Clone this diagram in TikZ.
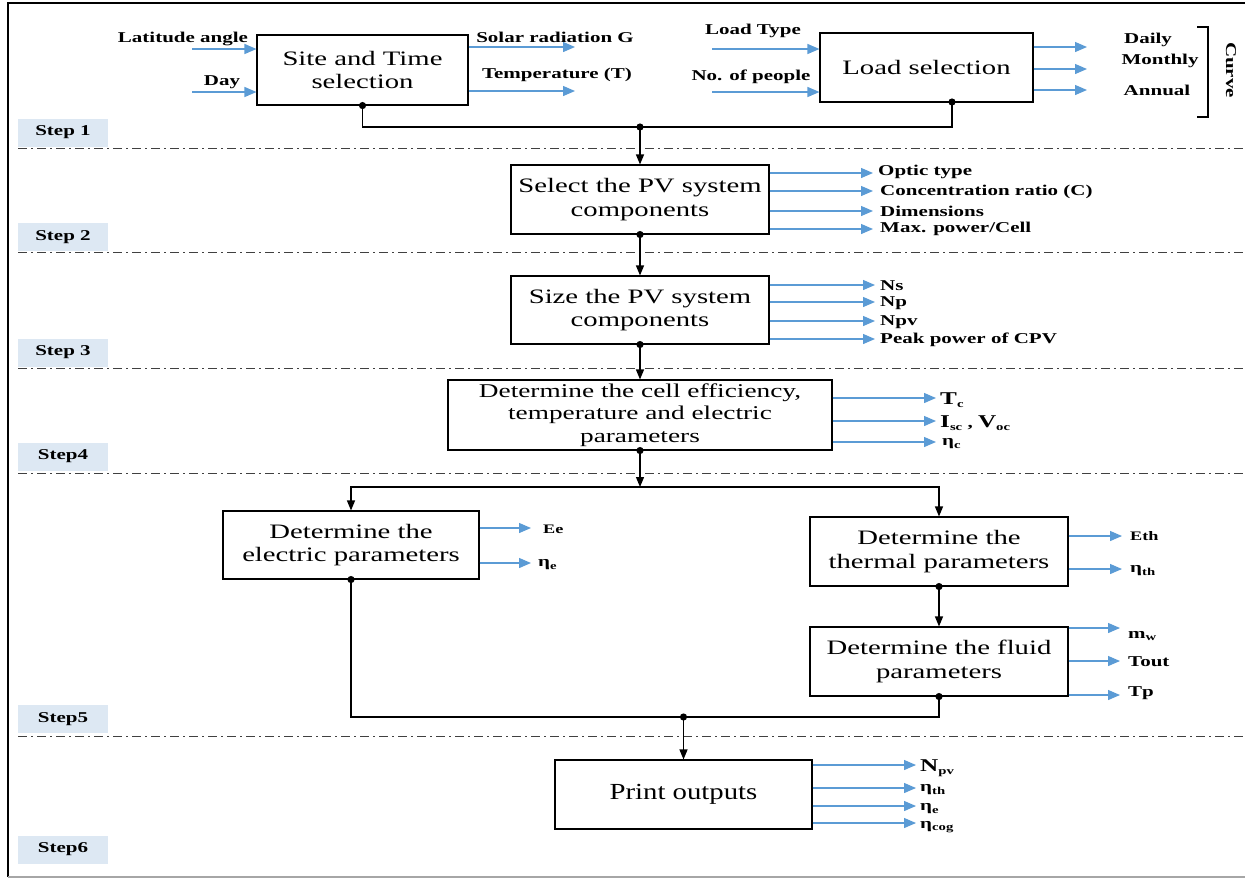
\documentclass[tikz,border=0pt]{standalone}
\usepackage{fontspec}
\setmainfont{Liberation Serif}
\newfontfamily\boxfam[FakeStretch=1.4]{Liberation Serif}
\newfontfamily\lblfam[FakeStretch=1.4]{Liberation Serif}
\newfontfamily\prfam[FakeStretch=1.25]{Liberation Serif}
\usetikzlibrary{arrows.meta}
\definecolor{arrowblue}{RGB}{91,155,213}
\definecolor{stepfill}{RGB}{221,232,243}
\newcommand{\boxtext}{\boxfam\fontsize{20.5}{23.5}\selectfont}
\newcommand{\celltext}{\boxfam\fontsize{19.5}{22.5}\selectfont}
\newcommand{\prtext}{\prfam\fontsize{23}{24}\selectfont}
\newcommand{\lbltext}{\lblfam\bfseries\fontsize{15}{17}\selectfont}
\newcommand{\bigletter}[1]{{\fontsize{18}{18}\selectfont #1}}
\newcommand{\lowsub}[1]{\raisebox{-2.5pt}{\fontsize{10.5}{10.5}\selectfont #1}}
\begin{document}
\begin{tikzpicture}[x=1pt,y=-1pt,
 box/.style={draw, line width=1.1pt, align=center, font=\boxtext, inner sep=0pt},
 lbl/.style={font=\lbltext, inner sep=0pt},
 lblw/.style={lbl, anchor=west},
 barr/.style={draw=arrowblue, line width=1.3pt, -{Triangle[length=12pt,width=10pt]}},
 karr/.style={draw=black, line width=1.2pt, -{Triangle[length=10pt,width=8pt]}},
 kline/.style={draw=black, line width=1.2pt},
 steplbl/.style={fill=stepfill, minimum width=90pt, minimum height=28pt, inner sep=0pt, font=\lbltext},
 sep/.style={draw=black!75, line width=0.9pt, dash pattern=on 9pt off 4pt on 2pt off 4pt}]
\useasboundingbox (0,0) rectangle (1245,879);
\draw[line width=1.2pt] (1245,3) -- (8,3) -- (8,877);
\draw[gray!70, line width=1.2pt] (8,877) -- (1245,877);
% separators
\foreach \y in {148,252,368,473,736} \draw[sep] (18,\y) -- (1245,\y);
% step labels
\node[steplbl] (s1) at (63,132.5) {Step 1};
\node[steplbl] (s2) at (63,237) {Step 2};
\node[steplbl] (s3) at (63,352.5) {Step 3};
\node[steplbl] (s4) at (63,456.5) {Step4};
\node[steplbl] (s5) at (63,719) {Step5};
\node[steplbl] (s6) at (63,849.5) {Step6};
% boxes
\node[box, minimum width=211pt, minimum height=70pt] (site) at (362.5,70) {Site and Time\\selection};
\node[box, minimum width=213pt, minimum height=69pt] (load) at (926.5,67.5) {Load selection};
\node[box, minimum width=258pt, minimum height=69pt] (sel) at (640,199.5) {Select the PV system\\components};
\node[box, minimum width=258pt, minimum height=68pt] (size) at (640,310) {Size the PV system\\components};
\node[box, minimum width=384pt, minimum height=70pt, font=\celltext] (cell) at (640,415) {Determine the cell efficiency,\\temperature and electric\\parameters};
\node[box, minimum width=256pt, minimum height=68pt] (elec) at (351,545) {Determine the\\electric parameters};
\node[box, minimum width=258pt, minimum height=69pt] (therm) at (939,551.5) {Determine the\\thermal parameters};
\node[box, minimum width=258pt, minimum height=69pt] (fluid) at (939,661.5) {Determine the fluid\\parameters};
\node[box, minimum width=257pt, minimum height=69pt, font=\prtext] (print) at (683.5,794.5) {Print outputs};
% black connectors
\coordinate (j1) at (640,127);
\coordinate (lo) at (952,102);
\coordinate (j2) at (640,487);
\coordinate (j3) at (683.5,717);
\draw[kline] (site.south) |- (j1);
\draw[kline] (lo) |- (j1);
\draw[karr] (j1) -- (sel.north);
\draw[karr] (sel.south) -- (size.north);
\draw[karr] (size.south) -- (cell.north);
\draw[karr] (cell.south) -- (j2);
\draw[karr] (j2) -| (elec.north);
\draw[karr] (j2) -| (therm.north);
\draw[karr] (therm.south) -- (fluid.north);
\draw[kline] (elec.south) |- (j3);
\draw[kline] (fluid.south) |- (j3);
\draw[karr] (j3) -- (print.north);
\foreach \p in {site.south, lo, j1, sel.south, size.south, cell.south, therm.south, elec.south, fluid.south, j3}
  \fill (\p) circle (3.6pt);
% step 1 inputs/outputs
\coordinate (lat) at (192,49); \draw[barr] (lat) -- (lat -| site.west);
\coordinate (day) at (192,92); \draw[barr] (day) -- (day -| site.west);
\coordinate (sol) at (575,47); \draw[barr] (sol -| site.east) -- (sol);
\coordinate (tmp) at (575,91); \draw[barr] (tmp -| site.east) -- (tmp);
\coordinate (ltype) at (712,49); \draw[barr] (ltype) -- (ltype -| load.west);
\coordinate (npeo) at (712,92); \draw[barr] (npeo) -- (npeo -| load.west);
\foreach \y/\n in {47/a,69/b,90/c} {\coordinate (ld\n) at (1087,\y); \draw[barr] (ld\n -| load.east) -- (ld\n);}
\node[lbl] (tlat) at (183,39) {Latitude angle};
\node[lbl] (tday) at (222,82) {Day};
\node[lbl] (tsol) at (555,37) {Solar radiation G};
\node[lbl] (ttemp) at (557,75) {Temperature (T)};
\node[lbl] (tlt) at (753,31) {Load Type};
\node[lbl] (tnp) at (751,77) {No. of people};
\node[lbl] (tdaily) at (1148,40) {Daily};
\node[lbl] (tmon) at (1160,61) {Monthly};
\node[lbl] (tann) at (1157,90) {Annual};
\draw[line width=1.2pt] (1197,27) -- (1208,27) -- (1208,117) -- (1197,117);
\node[lbl, rotate=-90] (tcurve) at (1231,70) {Curve};
% step 2
\foreach \y/\n in {173/a,191/b,211/c,229/d} {\coordinate (se\n) at (873,\y); \draw[barr] (se\n -| sel.east) -- (se\n);}
\node[lblw] (topt) at (878,172) {Optic type};
\node[lblw] (tcon) at (880,192) {Concentration ratio (C)};
\node[lblw] (tdim) at (880,211) {Dimensions};
\node[lblw] (tmax) at (880,229) {Max. power/Cell};
% step 3
\foreach \y/\n in {285/a,302/b,321/c,339/d} {\coordinate (sz\n) at (875,\y); \draw[barr] (sz\n -| size.east) -- (sz\n);}
\node[lblw] (tns) at (880,286) {Ns};
\node[lblw] (tnp2) at (880,303) {Np};
\node[lblw] (tnpv) at (880,322) {Npv};
\node[lblw] (tpk) at (880,340) {Peak power of CPV};
% step 4
\foreach \y/\n in {398/a,421/b,442/c} {\coordinate (ce\n) at (936,\y); \draw[barr] (ce\n -| cell.east) -- (ce\n);}
\node[lblw] (ttc) at (940,400) {\bigletter{T}\lowsub{c}};
\node[lblw] (tisc) at (940,423) {\bigletter{I}\lowsub{sc} , \bigletter{V}\lowsub{oc}};
\node[lblw] (tetac) at (942,444) {η\lowsub{c}};
% step 5 electric
\foreach \y/\n in {528/a,563/b} {\coordinate (el\n) at (531,\y); \draw[barr] (el\n -| elec.east) -- (el\n);}
\node[lblw, font=\lblfam\bfseries\fontsize{13}{15}\selectfont] (tee) at (543,529) {Ee};
\node[lblw] (tetae) at (538,565) {η\lowsub{e}};
% thermal
\foreach \y/\n in {536/a,569/b} {\coordinate (th\n) at (1122,\y); \draw[barr] (th\n -| therm.east) -- (th\n);}
\node[lblw, font=\lblfam\bfseries\fontsize{13}{15}\selectfont] (teth) at (1130,536) {Eth};
\node[lblw] (tetath) at (1130,571) {η\lowsub{th}};
% fluid
\foreach \y/\n in {628/a,661/b,695/c} {\coordinate (fl\n) at (1120,\y); \draw[barr] (fl\n -| fluid.east) -- (fl\n);}
\node[lblw] (tmw) at (1128,636) {m\lowsub{w}};
\node[lblw] (ttout) at (1128,662) {Tout};
\node[lblw] (ttp) at (1128,693) {Tp};
% step 6
\foreach \y/\n in {765/a,788/b,806/c,823/d} {\coordinate (pr\n) at (916,\y); \draw[barr] (pr\n -| print.east) -- (pr\n);}
\node[lblw] (tnpv2) at (920,768) {\bigletter{N}\lowsub{pv}};
\node[lblw] (tetath2) at (920,790) {η\lowsub{th}};
\node[lblw] (tetae2) at (920,809) {η\lowsub{e}};
\node[lblw] (tetacog) at (920,827) {η\lowsub{cog}};
\end{tikzpicture}
\end{document}
